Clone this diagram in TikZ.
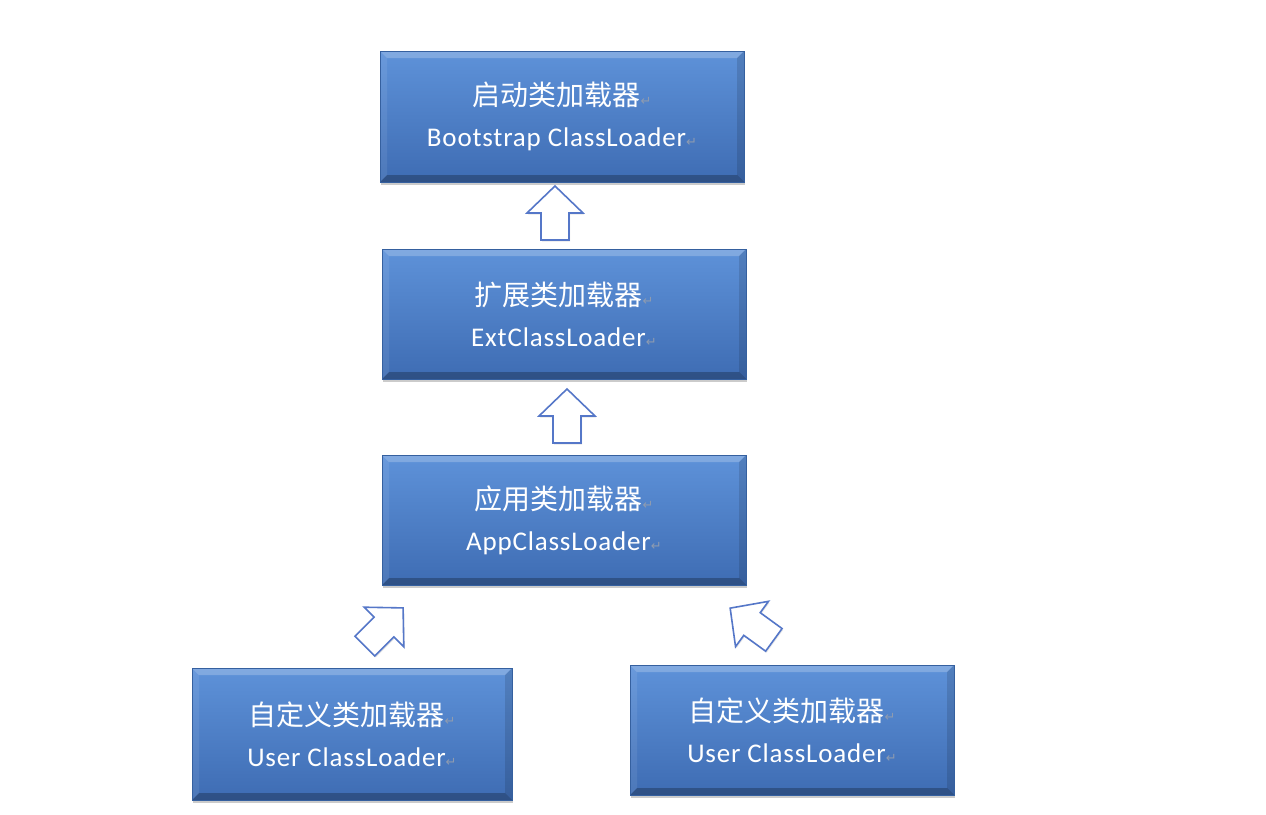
\documentclass[tikz,border=0pt]{standalone}
\usepackage{fontspec}
\setmainfont{Carlito}
\newfontfamily\cjk{Noto Sans CJK SC}
\newfontfamily\dejavu{DejaVu Sans}
\usetikzlibrary{shadows,calc}

\definecolor{boxtop}{HTML}{5E92D9}
\definecolor{boxbot}{HTML}{3E6CB3}
\definecolor{boxedge}{HTML}{35609F}
\definecolor{arrowblue}{HTML}{5577C8}
\definecolor{markgray}{HTML}{8E9BB0}

\newcommand{\retmark}{{\dejavu\color{markgray}\fontsize{13}{13}\selectfont ↵}}
\newcommand{\zh}[1]{{\cjk\fontsize{28}{30}\selectfont #1\retmark}}
\newcommand{\en}[1]{{\fontsize{27}{28}\addfontfeature{LetterSpace=3}\selectfont #1\retmark}}

\tikzset{
  loaderbox/.style={draw=boxedge, line width=0.8pt, top color=boxtop, bottom color=boxbot,
    text=white, align=center, inner sep=0pt,
    drop shadow={shadow xshift=1pt, shadow yshift=-3pt, fill=black!45, opacity=.45},
    path picture={
      \fill[white,opacity=.22] (path picture bounding box.north west) -- (path picture bounding box.north east)
        -- ([xshift=-7pt,yshift=-7pt]path picture bounding box.north east) -- ([xshift=7pt,yshift=-7pt]path picture bounding box.north west) -- cycle;
      \fill[black,opacity=.25] (path picture bounding box.south west) -- (path picture bounding box.south east)
        -- ([xshift=-7pt,yshift=7pt]path picture bounding box.south east) -- ([xshift=7pt,yshift=7pt]path picture bounding box.south west) -- cycle;
      \fill[white,opacity=.08] (path picture bounding box.north west) -- ([xshift=7pt,yshift=-7pt]path picture bounding box.north west)
        -- ([xshift=7pt,yshift=7pt]path picture bounding box.south west) -- (path picture bounding box.south west) -- cycle;
      \fill[black,opacity=.12] (path picture bounding box.north east) -- ([xshift=-7pt,yshift=-7pt]path picture bounding box.north east)
        -- ([xshift=-7pt,yshift=7pt]path picture bounding box.south east) -- (path picture bounding box.south east) -- cycle;
    }},
  hollowarrow/.style={draw=arrowblue, line width=1.6pt, fill=white, line join=miter,
    drop shadow={shadow xshift=1pt, shadow yshift=-1.5pt, fill=black!30, opacity=.3}}
}
\newcommand{\blockarrow}[3]{\draw[hollowarrow, shift={(#1,#2)}, rotate=#3]
  (0,-27) -- (28,0) -- (14,0) -- (14,27) -- (-14,27) -- (-14,0) -- (-28,0) -- cycle;}

\begin{document}
\begin{tikzpicture}[x=1pt,y=-1pt]
\useasboundingbox[fill=white] (0,0) rectangle (1266,814);

\node[loaderbox, minimum width=364pt, minimum height=131pt] (boot) at (562,116.5)
  {\zh{启动类加载器}\\[19pt]\en{Bootstrap ClassLoader}};
\node[loaderbox, minimum width=364pt, minimum height=130pt] (ext) at (564,314)
  {\zh{扩展类加载器}\\[19pt]\en{ExtClassLoader}};
\node[loaderbox, minimum width=364pt, minimum height=130pt] (app) at (564,520)
  {\zh{应用类加载器}\\[19pt]\en{AppClassLoader}};
\node[loaderbox, minimum width=320pt, minimum height=132pt] (user1) at (352,734)
  {\zh{自定义类加载器}\\[19pt]\en{User ClassLoader}};
\node[loaderbox, minimum width=324pt, minimum height=130pt] (user2) at (792,730)
  {\zh{自定义类加载器}\\[19pt]\en{User ClassLoader}};

\blockarrow{555}{213}{0}
\blockarrow{567}{416}{0}
\blockarrow{384}{627}{-45}
\blockarrow{752}{624}{54}
\end{tikzpicture}
\end{document}
